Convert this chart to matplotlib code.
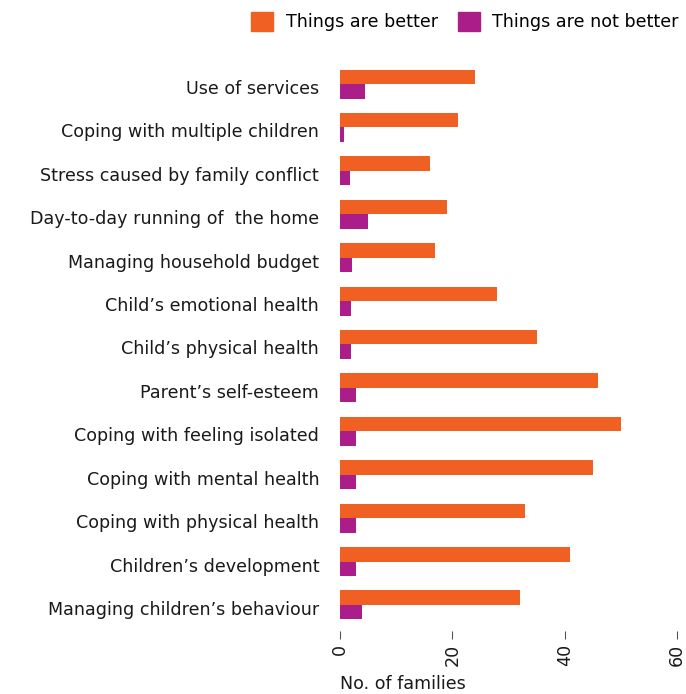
import matplotlib
matplotlib.use("Agg")
import matplotlib.pyplot as plt
import matplotlib.transforms as mtransforms
import numpy as np
from matplotlib.patches import Patch

categories = [
    "Use of services",
    "Coping with multiple children",
    "Stress caused by family conflict",
    "Day-to-day running of  the home",
    "Managing household budget",
    "Child\u2019s emotional health",
    "Child\u2019s physical health",
    "Parent\u2019s self-esteem",
    "Coping with feeling isolated",
    "Coping with mental health",
    "Coping with physical health",
    "Children\u2019s development",
    "Managing children\u2019s behaviour",
]
better = [24, 21, 16, 19, 17, 28, 35, 46, 50, 45, 33, 41, 32]
not_better = [4.5, 0.7, 1.8, 5, 2.2, 2, 2, 2.8, 2.8, 2.8, 2.8, 2.8, 4]
series_names = ["Things are better", "Things are not better"]
xticks = [0, 20, 40, 60]

c_better = "#F16023"
c_not = "#AB1E8A"
txt = "#1a1a1a"
fs = 12.6

W, H = 686, 694
fig = plt.figure(figsize=(W / 100, H / 100), dpi=100)
ax = fig.add_axes([340 / W, (H - 631) / H, (677 - 340) / W, (631 - 58) / H])

y = np.arange(len(categories))
h = 0.335
ax.barh(y - h / 2, better, height=h, color=c_better, label=series_names[0])
ax.barh(y + h / 2, not_better, height=h, color=c_not, label=series_names[1])

ax.set_xlim(0, 60)
ax.set_ylim(len(categories) - 0.4, -0.6)
ax.set_yticks(y)
ax.set_yticklabels(categories, fontsize=fs, color=txt)
ax.set_xticks(xticks)
ax.set_xticklabels([str(t) for t in xticks], rotation=90, fontsize=fs, color=txt)
ax.tick_params(axis="y", length=0, pad=15)
ax.tick_params(axis="x", length=6, width=0.8, color="#555555", pad=3)
for s in ax.spines.values():
    s.set_visible(False)

offset = mtransforms.ScaledTranslation(0, -3 / 100, fig.dpi_scale_trans)
for lab in ax.get_yticklabels():
    lab.set_transform(lab.get_transform() + offset)

ax.set_xlabel("No. of families", fontsize=fs, color=txt, loc="left", labelpad=7)

handles = [Patch(color=c_better), Patch(color=c_not)]
fig.legend(handles, series_names, loc="upper right", bbox_to_anchor=(693 / W, 1.0 + 2 / H),
           ncol=2, frameon=False, fontsize=fs, handlelength=1.25, handleheight=1.25,
           handletextpad=0.72, columnspacing=1.15, borderpad=0.3)

fig.savefig("out.png", dpi=100)
